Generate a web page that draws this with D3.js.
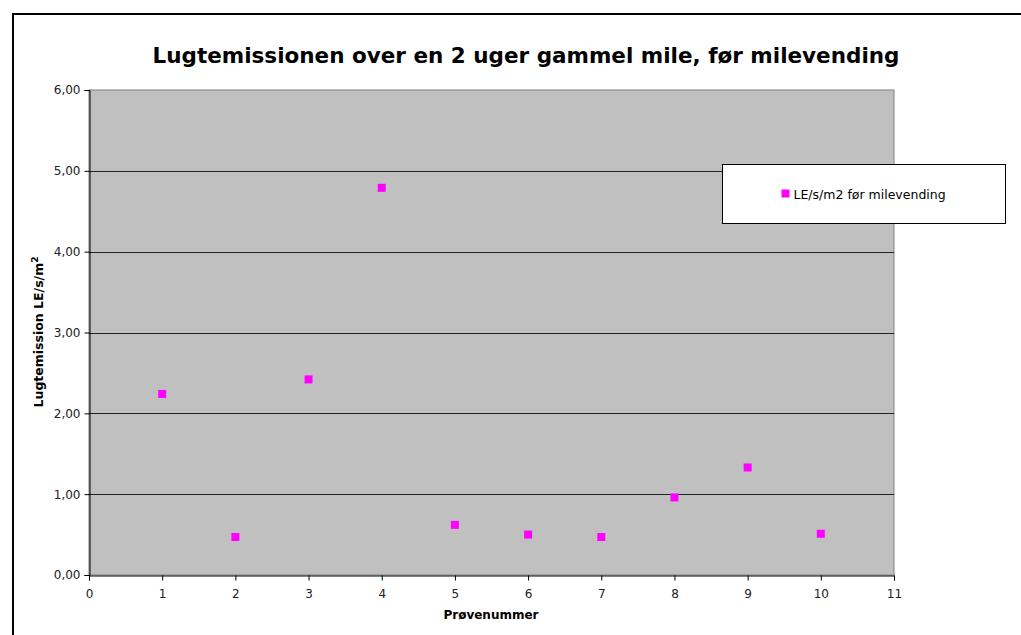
<!DOCTYPE html>
<html>
<head>
<meta charset="utf-8">
<script src="https://cdn.jsdelivr.net/npm/d3@7"></script>
<style>
  html, body { margin: 0; padding: 0; background: #fff; }
  svg { display: block; }
  text { font-family: "DejaVu Sans", Verdana, sans-serif; }
</style>
</head>
<body>
<svg id="chart" width="1021" height="635"></svg>
<script>
// Sample numbers and measured odour emission (LE/s/m2) before turning the pile
const samples = [1, 2, 3, 4, 5, 6, 7, 8, 9, 10];
const emission = [2.24, 0.47, 2.42, 4.79, 0.62, 0.50, 0.47, 0.96, 1.33, 0.51];
const xTicks = [0, 1, 2, 3, 4, 5, 6, 7, 8, 9, 10, 11];
const yTicks = [0, 1, 2, 3, 4, 5, 6];
const seriesName = "LE/s/m2 før milevending";

const svg = d3.select("#chart");
const plot = { left: 89, top: 90, right: 894, bottom: 575 };

const x = d3.scaleLinear().domain([0, 11]).range([plot.left, plot.right]);
const y = d3.scaleLinear().domain([0, 6]).range([plot.bottom, plot.top]);
const fmt = v => d3.format(".2f")(v).replace(".", ",");

// outer chart frame
svg.append("rect")
  .attr("x", 13).attr("y", 14).attr("width", 1020).attr("height", 640)
  .attr("fill", "#fff").attr("stroke", "#000").attr("stroke-width", 2);

// title
svg.append("text")
  .attr("x", 526).attr("y", 63)
  .attr("text-anchor", "middle")
  .attr("font-size", 21.5).attr("font-weight", "bold")
  .text("Lugtemissionen over en 2 uger gammel mile, før milevending");

// plot background
svg.append("rect")
  .attr("x", plot.left).attr("y", plot.top)
  .attr("width", plot.right - plot.left).attr("height", plot.bottom - plot.top)
  .attr("fill", "#c0c0c0").attr("stroke", "#808080").attr("stroke-width", 1);

// horizontal gridlines
svg.append("g")
  .selectAll("line")
  .data(yTicks.filter(d => d > 0 && d < 6))
  .join("line")
  .attr("x1", plot.left).attr("x2", plot.right)
  .attr("y1", d => Math.round(y(d)) + 0.5).attr("y2", d => Math.round(y(d)) + 0.5)
  .attr("stroke", "#222").attr("stroke-width", 1);

// y axis
const yAxis = svg.append("g")
  .attr("transform", `translate(${plot.left + 0.5},0)`)
  .call(d3.axisLeft(y).tickValues(yTicks).tickFormat(fmt).tickSize(5).tickPadding(4));
yAxis.select(".domain").attr("stroke", "#000");
yAxis.selectAll(".tick line").attr("stroke", "#000");
yAxis.selectAll(".tick text")
  .attr("font-family", "DejaVu Sans, Verdana, sans-serif")
  .attr("font-size", 12).attr("fill", "#222");

// x axis
const xAxis = svg.append("g")
  .attr("transform", `translate(0,${plot.bottom + 0.5})`)
  .call(d3.axisBottom(x).tickValues(xTicks).tickFormat(d3.format("d")).tickSize(5).tickPadding(9));
xAxis.select(".domain").attr("stroke", "#000");
xAxis.selectAll(".tick line").attr("stroke", "#000");
xAxis.selectAll(".tick text")
  .attr("font-family", "DejaVu Sans, Verdana, sans-serif")
  .attr("font-size", 12).attr("fill", "#222");

// axis titles
svg.append("text")
  .attr("x", 491).attr("y", 619)
  .attr("text-anchor", "middle")
  .attr("font-size", 12).attr("font-weight", "bold")
  .text("Prøvenummer");

const yTitle = svg.append("text")
  .attr("transform", "translate(43,332) rotate(-90)")
  .attr("text-anchor", "middle")
  .attr("font-size", 12.5).attr("font-weight", "bold");
yTitle.append("tspan").text("Lugtemission LE/s/m");
yTitle.append("tspan").attr("font-size", 9).attr("dy", -5).text("2");

// data markers
svg.append("g")
  .selectAll("rect")
  .data(samples.map((s, i) => ({ s, v: emission[i] })))
  .join("rect")
  .attr("x", d => x(d.s) - 4).attr("y", d => y(d.v) - 4)
  .attr("width", 8).attr("height", 8)
  .attr("fill", "#ff00ff");

// legend
const legend = svg.append("g").attr("transform", "translate(722.5,164.5)");
legend.append("rect")
  .attr("width", 283).attr("height", 59)
  .attr("fill", "#fff").attr("stroke", "#000").attr("stroke-width", 1);
legend.append("rect")
  .attr("x", 59).attr("y", 25).attr("width", 8).attr("height", 8)
  .attr("fill", "#ff00ff");
legend.append("text")
  .attr("x", 71).attr("y", 34)
  .attr("font-size", 12.5)
  .text(seriesName);
</script>
</body>
</html>
